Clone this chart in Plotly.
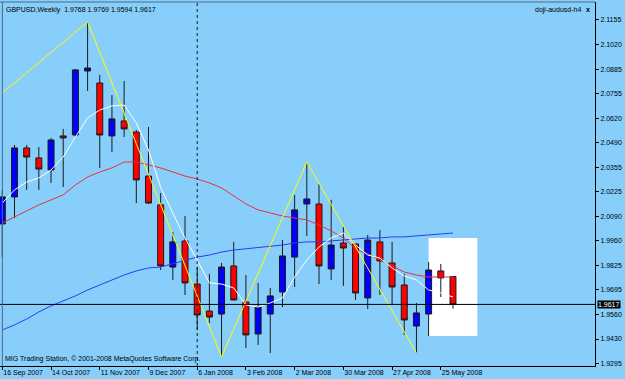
import plotly.graph_objects as go

# ---- data (GBPUSD weekly) ----
weeks = list(range(38))
opens = [2.0052, 2.0198, 2.0463, 2.0409, 2.0344, 2.0528, 2.0533, 2.0879, 2.0814, 2.0528,
         2.0609, 2.0549, 2.0311, 2.0155, 1.9819, 1.9960, 1.9727, 1.9581, 1.9565, 1.9825,
         1.9630, 1.9457, 1.9565, 1.9684, 1.9873, 2.0160, 2.0160, 1.9809, 1.9949, 1.9944,
         1.9652, 1.9955, 1.9841, 1.9722, 1.9500, 1.9565, 1.9798, 1.9768]
highs = [2.0236, 2.0479, 2.0479, 2.0468, 2.0517, 2.0566, 2.0890, 2.1144, 2.0858, 2.0749,
         2.0825, 2.0560, 2.0576, 2.0220, 2.0009, 2.0095, 1.9819, 1.9782, 1.9841, 1.9955,
         1.9776, 1.9733, 1.9706, 1.9965, 2.0209, 2.0387, 2.0268, 2.0182, 2.0036, 1.9944,
         1.9992, 2.0019, 1.9955, 1.9782, 1.9625, 1.9846, 1.9836, 1.9769]
lows = [1.9873, 2.0084, 2.0236, 2.0236, 2.0274, 2.0252, 2.0522, 2.0771, 2.0355, 2.0441,
        2.0522, 2.0165, 2.0160, 1.9803, 1.9749, 1.9668, 1.9479, 1.9517, 1.9333, 1.9641,
        1.9381, 1.9398, 1.9354, 1.9603, 1.9711, 1.9987, 1.9727, 1.9749, 1.9717, 1.9641,
        1.9592, 1.9668, 1.9614, 1.9452, 1.9354, 1.9446, 1.9657, 1.9594]
closes = [2.0198, 2.0463, 2.0414, 2.0349, 2.0506, 2.0517, 2.0885, 2.0895, 2.0533, 2.0620,
          2.0566, 2.0290, 2.0165, 1.9825, 1.9955, 1.9733, 1.9560, 1.9549, 1.9819, 1.9641,
          1.9452, 1.9603, 1.9663, 1.9879, 2.0128, 2.0187, 1.9825, 1.9938, 1.9922, 1.9679,
          1.9965, 1.9852, 1.9711, 1.9533, 1.9571, 1.9803, 1.9760, 1.9617]

ma_fast = [2.0165, 2.0236, 2.0279, 2.0301, 2.0344, 2.0414, 2.0522, 2.0625, 2.0668, 2.0690,
           2.0695, 2.0598, 2.0452, 2.0250, 2.0110, 1.9975, 1.9857, 1.9733, 1.9727, 1.9706,
           1.9614, 1.9603, 1.9625, 1.9652, 1.9765, 1.9857, 1.9927, 1.9976, 2.0003, 1.9938,
           1.9884, 1.9868, 1.9814, 1.9771, 1.9749, 1.9695, 1.9679, 1.9657]
ma_mid = [2.0057, 2.0090, 2.0122, 2.0155, 2.0182, 2.0209, 2.0263, 2.0306, 2.0333, 2.0355,
          2.0387, 2.0387, 2.0371, 2.0355, 2.0333, 2.0311, 2.0295, 2.0274, 2.0247, 2.0203,
          2.0160, 2.0128, 2.0111, 2.0095, 2.0084, 2.0074, 2.0046, 2.0014, 1.9976, 1.9917,
          1.9890, 1.9857, 1.9825, 1.9792, 1.9776, 1.9765, 1.9765, 1.9765]
ma_slow = [1.9479, 1.9506, 1.9538, 1.9576, 1.9609, 1.9636, 1.9663, 1.9695, 1.9722, 1.9749,
           1.9776, 1.9798, 1.9814, 1.9819, 1.9836, 1.9857, 1.9873, 1.9884, 1.9900, 1.9911,
           1.9917, 1.9927, 1.9933, 1.9938, 1.9949, 1.9955, 1.9955, 1.9960, 1.9965, 1.9971,
           1.9976, 1.9976, 1.9982, 1.9982, 1.9987, 1.9992, 1.9998, 2.0003]

zigzag_idx = [0, 7, 18, 25, 34]
zigzag_val = [2.0760, 2.1144, 1.9333, 2.0387, 1.9354]

tick_idx = [0, 4, 8, 12, 16, 20, 24, 28, 32, 36]
tick_labels = ["16 Sep 2007", "14 Oct 2007", "11 Nov 2007", "9 Dec 2007", "6 Jan 2008",
               "3 Feb 2008", "2 Mar 2008", "30 Mar 2008", "27 Apr 2008", "25 May 2008"]
price_ticks = [2.1155, 2.1020, 2.0885, 2.0755, 2.0620, 2.0490, 2.0355, 2.0225, 2.0090,
               1.9960, 1.9825, 1.9695, 1.9560, 1.9430, 1.9295]

last_price = 1.9617
vline_week = 16
box_weeks = [35, 39]
box_prices = [1.9446, 1.9976]

FONT = "Liberation Sans"
BG = "#87CEFA"

fig = go.Figure()
fig.add_trace(go.Candlestick(
    x=weeks, open=opens, high=highs, low=lows, close=closes,
    increasing=dict(fillcolor="#0000FF", line=dict(color="#1a1a1a", width=1)),
    decreasing=dict(fillcolor="#FF0000", line=dict(color="#1a1a1a", width=1)),
    whiskerwidth=0, showlegend=False, hoverinfo="skip"))
fig.add_trace(go.Scatter(x=weeks, y=ma_slow, mode="lines",
                         line=dict(color="#2a3cf0", width=1), showlegend=False))
fig.add_trace(go.Scatter(x=weeks, y=ma_mid, mode="lines",
                         line=dict(color="#e8323c", width=1), showlegend=False))
fig.add_trace(go.Scatter(x=weeks, y=ma_fast, mode="lines",
                         line=dict(color="#ffffff", width=1), showlegend=False))
fig.add_trace(go.Scatter(x=zigzag_idx, y=zigzag_val, mode="lines",
                         line=dict(color="#ffff00", width=1), showlegend=False))

# white box
fig.add_shape(type="rect", xref="x", yref="y", x0=box_weeks[0], x1=box_weeks[1],
              y0=box_prices[0], y1=box_prices[1], fillcolor="white",
              line=dict(width=0), layer="below")
# current price line
fig.add_shape(type="line", xref="paper", yref="y", x0=0, x1=1, y0=last_price, y1=last_price,
              line=dict(color="black", width=1))
# vertical period separator
fig.add_shape(type="line", xref="x", yref="paper", x0=vline_week, x1=vline_week, y0=0, y1=1,
              line=dict(color="#1a1a1a", width=1, dash="dot"))
# frame: top and left grey lines
fig.add_shape(type="line", xref="paper", yref="paper", x0=0, x1=1, y0=1, y1=1,
              line=dict(color="#4a6a86", width=1))
fig.add_shape(type="line", xref="paper", yref="paper", x0=0.004, x1=0.004, y0=0, y1=1,
              line=dict(color="#4a6a86", width=1))

fig.add_annotation(xref="paper", yref="paper", x=0, y=1, xanchor="left", yanchor="top",
                   xshift=4, yshift=-2, showarrow=False,
                   text="GBPUSD,Weekly  1.9768 1.9769 1.9594 1.9617",
                   font=dict(family=FONT, size=7, color="black"))
fig.add_annotation(xref="paper", yref="paper", x=1, y=1, xanchor="right", yanchor="top",
                   xshift=-12, yshift=-2, showarrow=False, text="doji-audusd-h4",
                   font=dict(family=FONT, size=7, color="black"))
fig.add_annotation(xref="paper", yref="paper", x=1, y=1, xanchor="right", yanchor="top",
                   xshift=-3, yshift=-2, showarrow=False, text="<b>x</b>",
                   font=dict(family=FONT, size=7, color="black"))
fig.add_annotation(xref="paper", yref="paper", x=0, y=0, xanchor="left", yanchor="bottom",
                   xshift=3, yshift=1, showarrow=False,
                   text="MIG Trading Station, © 2001-2008 MetaQuotes Software Corp.",
                   font=dict(family=FONT, size=7, color="black"))
fig.add_annotation(xref="paper", yref="y", x=1, y=last_price, xanchor="left", yanchor="middle",
                   xshift=2, showarrow=False, text=f"{last_price:.4f}",
                   bgcolor="black", borderpad=0,
                   font=dict(family=FONT, size=7, color="white"))

fig.update_layout(
    width=625, height=379,
    margin=dict(l=0, r=30, t=2, b=13),
    paper_bgcolor=BG, plot_bgcolor=BG,
    showlegend=False,
    xaxis=dict(range=[-0.19, 48.66], type="linear", rangeslider=dict(visible=False),
               tickvals=tick_idx, ticktext=tick_labels, ticklabelposition="outside right",
               ticks="outside", ticklen=3, tickcolor="black",
               showgrid=False, zeroline=False, showline=True, linecolor="black", linewidth=1,
               tickfont=dict(family=FONT, size=7, color="black")),
    yaxis=dict(range=[1.9284, 2.1252], side="right", tickvals=price_ticks,
               tickformat=".4f", ticks="outside", ticklen=3, tickcolor="black",
               showgrid=False, zeroline=False, showline=True, linecolor="black", linewidth=1,
               tickfont=dict(family=FONT, size=7, color="black")),
)

fig.write_html("out.html")
